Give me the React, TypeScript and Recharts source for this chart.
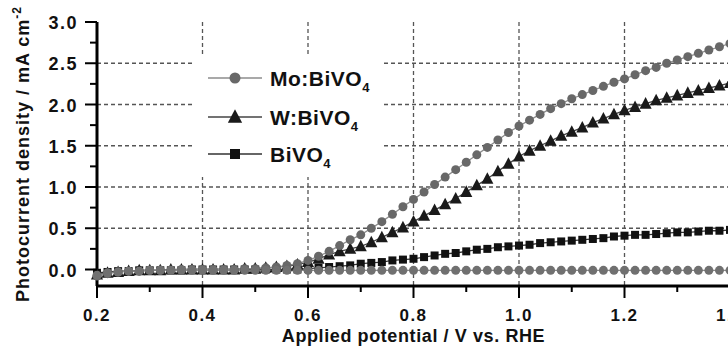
import React from 'react';
import { LineChart, Line, XAxis, YAxis, CartesianGrid, Legend } from 'recharts';

// applied potential (V vs. RHE), one point every 20 mV
const potentials = [
  0.2, 0.22, 0.24, 0.26, 0.28, 0.3, 0.32, 0.34, 0.36, 0.38,
  0.4, 0.42, 0.44, 0.46, 0.48, 0.5, 0.52, 0.54, 0.56, 0.58,
  0.6, 0.62, 0.64, 0.66, 0.68, 0.7, 0.72, 0.74, 0.76, 0.78,
  0.8, 0.82, 0.84, 0.86, 0.88, 0.9, 0.92, 0.94, 0.96, 0.98,
  1.0, 1.02, 1.04, 1.06, 1.08, 1.1, 1.12, 1.14, 1.16, 1.18,
  1.2, 1.22, 1.24, 1.26, 1.28, 1.3, 1.32, 1.34, 1.36, 1.38,
  1.4,
];

const moBiVO4 = [
  -0.08, -0.05, -0.03, -0.02, -0.02, -0.01, -0.01, -0.01, 0.0, 0.0,
  0.0, 0.0, 0.0, 0.0, 0.01, 0.01, 0.02, 0.03, 0.05, 0.07,
  0.11, 0.16, 0.22, 0.29, 0.36, 0.42, 0.5, 0.58, 0.67, 0.76,
  0.85, 0.94, 1.03, 1.12, 1.21, 1.3, 1.39, 1.48, 1.57, 1.66,
  1.74, 1.81, 1.88, 1.95, 2.01, 2.07, 2.12, 2.17, 2.22, 2.27,
  2.31, 2.36, 2.41, 2.45, 2.5, 2.54, 2.58, 2.62, 2.66, 2.7,
  2.74,
];

const wBiVO4 = [
  -0.06, -0.04, -0.03, -0.02, -0.01, -0.01, -0.01, 0.0, 0.0, 0.0,
  0.0, 0.0, 0.0, 0.0, 0.01, 0.01, 0.02, 0.03, 0.04, 0.06,
  0.09, 0.13, 0.18, 0.22, 0.25, 0.28, 0.33, 0.39, 0.45, 0.51,
  0.58, 0.65, 0.72, 0.79, 0.86, 0.94, 1.02, 1.1, 1.19, 1.28,
  1.37, 1.44, 1.5, 1.56, 1.62, 1.67, 1.72, 1.78, 1.83, 1.88,
  1.93, 1.97, 2.01, 2.05, 2.08, 2.11, 2.14, 2.17, 2.2, 2.23,
  2.26,
];

const biVO4 = [
  -0.04, -0.03, -0.02, -0.02, -0.01, -0.01, -0.01, -0.01, -0.01, 0.0,
  0.0, 0.0, 0.0, 0.0, 0.0, 0.0, 0.0, 0.0, 0.0, 0.0,
  0.01, 0.02, 0.03, 0.04, 0.05, 0.07, 0.08, 0.09, 0.11, 0.12,
  0.13, 0.15, 0.17, 0.19, 0.2, 0.22, 0.24, 0.25, 0.27, 0.28,
  0.29, 0.3, 0.32, 0.33, 0.34, 0.35, 0.36, 0.37, 0.38, 0.4,
  0.41, 0.42, 0.42, 0.43, 0.44, 0.45, 0.45, 0.46, 0.47, 0.47,
  0.48,
];

// dark current, no legend entry
const darkCurrent = [
  -0.07, -0.04, -0.03, -0.02, -0.02, -0.01, -0.01, -0.01, -0.01, -0.01,
  -0.01, -0.01, -0.01, -0.01, -0.01, -0.01, -0.01, -0.01, -0.01, -0.01,
  -0.01, -0.01, -0.01, -0.01, -0.01, -0.01, -0.01, -0.01, -0.01, -0.01,
  -0.01, -0.01, -0.01, -0.01, -0.01, -0.01, -0.01, -0.01, -0.01, -0.01,
  -0.01, -0.01, -0.01, -0.01, -0.01, -0.01, -0.01, -0.01, -0.01, -0.01,
  -0.01, -0.01, -0.01, -0.01, -0.01, -0.01, -0.01, -0.01, -0.01, -0.01,
  -0.01,
];

const xTicks = [0.2, 0.3, 0.4, 0.5, 0.6, 0.7, 0.8, 0.9, 1.0, 1.1, 1.2, 1.3, 1.4];
const xLabels = [0.2, 0.4, 0.6, 0.8, 1.0, 1.2, 1.4];
const yTicks = [0, 0.25, 0.5, 0.75, 1.0, 1.25, 1.5, 1.75, 2.0, 2.25, 2.5, 2.75, 3.0];
const yLabels = [0, 0.5, 1.0, 1.5, 2.0, 2.5, 3.0];
const xGrid = [0.4, 0.6, 0.8, 1.0, 1.2];
const yGrid = [0.5, 1.0, 1.5, 2.0, 2.5];

const series = [
  { key: 'mo', name: 'Mo:BiVO', shape: 'circle', fill: '#686868', stroke: '#8c8c8c', size: 9 },
  { key: 'w', name: 'W:BiVO', shape: 'triangle', fill: '#1a1a1a', stroke: '#444', size: 11 },
  { key: 'bi', name: 'BiVO', shape: 'square', fill: '#111', stroke: '#333', size: 8 },
];

const data = potentials.map((v, i) => ({
  v,
  mo: moBiVO4[i],
  w: wBiVO4[i],
  bi: biVO4[i],
  dark: darkCurrent[i],
}));

const FONT = '"Liberation Sans", Arial, sans-serif';

const Marker = ({ shape, cx, cy, fill, size }: any) => {
  if (cx == null || cy == null) return null;
  if (shape === 'triangle') {
    return (
      <polygon
        points={`${cx},${cy - size * 0.6} ${cx - size * 0.55},${cy + size * 0.45} ${cx + size * 0.55},${cy + size * 0.45}`}
        fill={fill}
      />
    );
  }
  if (shape === 'square') {
    return <rect x={cx - size / 2} y={cy - size / 2} width={size} height={size} fill={fill} />;
  }
  return <circle cx={cx} cy={cy} r={size / 2} fill={fill} />;
};

const isLabel = (list: number[], value: number) => list.some((l) => Math.abs(l - value) < 1e-6);

const XTick = ({ x, y, payload }: any) => {
  const major = isLabel(xLabels, payload.value);
  return (
    <g>
      <line x1={x} y1={y} x2={x} y2={y + (major ? 12 : 6)} stroke="#000" strokeWidth={2} />
      {major && (
        <text x={x} y={y + 29} textAnchor="middle" dominantBaseline="central" fontFamily={FONT}
          fontWeight="bold" fontSize={17} letterSpacing={1.5} fill="#111">
          {payload.value.toFixed(1)}
        </text>
      )}
    </g>
  );
};

const YTick = ({ x, y, payload }: any) => {
  const major = isLabel(yLabels, payload.value);
  return (
    <g>
      <line x1={x} y1={y} x2={x - (major ? 12 : 7)} y2={y} stroke="#000" strokeWidth={2} />
      {major && (
        <text x={x - 19} y={y + 1} textAnchor="end" dominantBaseline="central" fontFamily={FONT}
          fontWeight="bold" fontSize={18} letterSpacing={1.5} fill="#111">
          {payload.value.toFixed(1)}
        </text>
      )}
    </g>
  );
};

const XTitle = (props: any) => {
  const vb = props.viewBox;
  return (
    <text x={vb.x + vb.width / 2} y={342} textAnchor="middle" fontFamily={FONT} fontWeight="bold"
      fontSize={18} letterSpacing={0.6} fill="#111">
      Applied potential / V vs. RHE
    </text>
  );
};

const YTitle = (props: any) => {
  const vb = props.viewBox;
  const cy = vb.y + vb.height / 2;
  return (
    <text x={29} y={cy} transform={`rotate(-90, 29, ${cy})`} textAnchor="middle" fontFamily={FONT}
      fontWeight="bold" fontSize={18} letterSpacing={1} fill="#111">
      Photocurrent density / mA cm
      <tspan dy={-8} fontSize={12}>-2</tspan>
    </text>
  );
};

const LegendBox = () => (
  <svg width={191} height={122} style={{ display: 'block' }}>
    {series.map((s, i) => {
      const cy = [23, 62, 99][i];
      return (
        <g key={s.key}>
          <line x1={15} y1={cy} x2={69} y2={cy} stroke={s.stroke} strokeWidth={1.5} />
          <Marker shape={s.shape} cx={42} cy={cy} fill={s.fill} size={s.size + 2} />
          <text x={77} y={cy + 8} fontFamily={FONT} fontWeight="bold" fontSize={21} letterSpacing={0.5} fill="#111">
            {s.name}
            <tspan dy={6} fontSize={13}>4</tspan>
          </text>
        </g>
      );
    })}
  </svg>
);

export default function App() {
  return (
    <div style={{ position: 'fixed', left: 0, top: 0, width: 728, height: 355, overflow: 'hidden', background: '#fff' }}>
      <LineChart width={780} height={355} data={data} margin={{ top: 22, right: 50, bottom: 0, left: 0 }}>
        <CartesianGrid horizontalValues={yGrid} verticalValues={xGrid} stroke="#555" strokeWidth={1.3} strokeDasharray="4 3" />
        <XAxis dataKey="v" type="number" domain={[0.2, 1.4]} ticks={xTicks} interval={0} height={69}
          tickLine={false} tickSize={0} tickMargin={0} tick={<XTick />} axisLine={{ stroke: '#000', strokeWidth: 3 }}
          label={(p: any) => <XTitle {...p} />} />
        <YAxis type="number" domain={[-0.2, 3.0]} ticks={yTicks} interval={0} width={97}
          tickLine={false} tickSize={0} tickMargin={0} tick={<YTick />} axisLine={{ stroke: '#000', strokeWidth: 3 }}
          label={(p: any) => <YTitle {...p} />} />
        <Legend layout="vertical" align="center" verticalAlign="middle"
          wrapperStyle={{ left: 193, top: 55, width: 191, height: 122, backgroundColor: '#fff' }}
          content={() => <LegendBox />} />
        <Line dataKey="bi" name="BiVO4" stroke="#333" strokeWidth={1.3} isAnimationActive={false}
          dot={(p: any) => <Marker key={p.index} shape="square" cx={p.cx} cy={p.cy} fill="#111" size={8} />} />
        <Line dataKey="w" name="W:BiVO4" stroke="#444" strokeWidth={1.3} isAnimationActive={false}
          dot={(p: any) => <Marker key={p.index} shape="triangle" cx={p.cx} cy={p.cy} fill="#1a1a1a" size={11} />} />
        <Line dataKey="mo" name="Mo:BiVO4" stroke="#8c8c8c" strokeWidth={1.3} isAnimationActive={false}
          dot={(p: any) => <Marker key={p.index} shape="circle" cx={p.cx} cy={p.cy} fill="#686868" size={9} />} />
        <Line dataKey="dark" name="dark" legendType="none" stroke="#8c8c8c" strokeWidth={1.3} isAnimationActive={false}
          dot={(p: any) => <Marker key={p.index} shape="circle" cx={p.cx} cy={p.cy} fill="#707070" size={9} />} />
      </LineChart>
    </div>
  );
}
